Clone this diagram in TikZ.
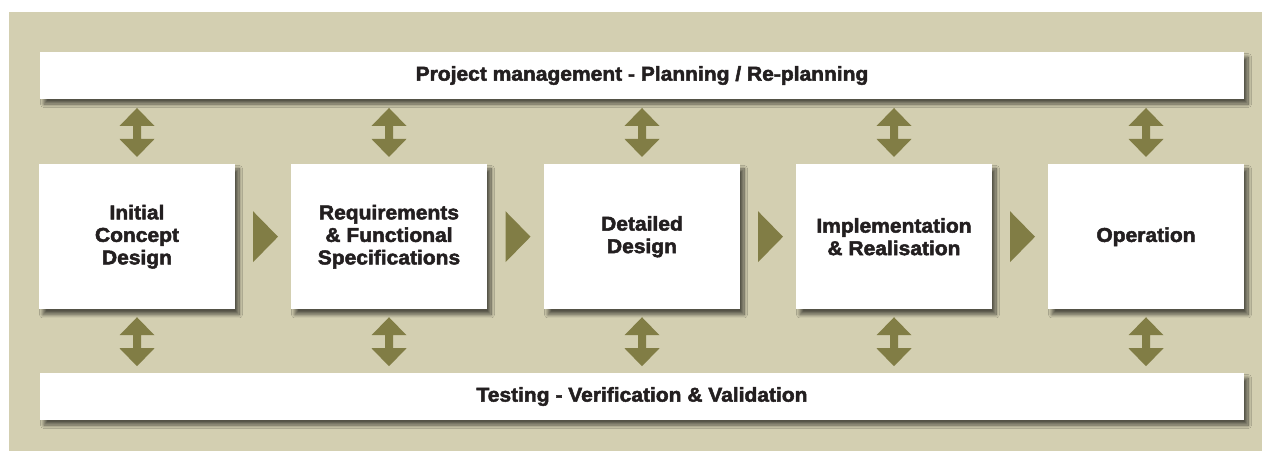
\documentclass[tikz,border=0pt]{standalone}
\usepackage{fontspec}
\newfontfamily\lblfont{Liberation Sans}[BoldFeatures={FakeStretch=1.05,FakeBold=2.4}]
\usetikzlibrary{calc,shadows.blur}
\definecolor{panel}{HTML}{D3CFB1}
\definecolor{olivetip}{HTML}{817D45}
\definecolor{ink}{HTML}{231F20}
\tikzset{
  card/.style={rectangle, fill=white, inner sep=0pt, align=center,
    text=ink, font=\lblfont\bfseries\fontsize{20}{22.5}\selectfont,
    blur shadow={shadow xshift=4pt, shadow yshift=-5pt,
      shadow blur radius=3.5pt, shadow blur steps=12, shadow opacity=60}},
  stage/.style={card, minimum width=196pt, minimum height=145.5pt},
  band/.style={card, minimum width=1204pt, minimum height=47pt},
}
% vertical double-headed arrow centred on a coordinate
\newcommand\linkarrow[1]{%
  \fill[olivetip] (#1) ++(0,-24.5) -- ++(17.5,18) -- ++(-13.5,0) -- ++(0,13)
    -- ++(13.5,0) -- ++(-17.5,18) -- ++(-17.5,-18) -- ++(13.5,0)
    -- ++(0,-13) -- ++(-13.5,0) -- cycle;}
% forward triangle between two stages
\newcommand\stepmark[1]{%
  \fill[olivetip] (#1) ++(-10,-25.5) -- ++(25,25.5) -- ++(-25,25.5) -- cycle;}
\begin{document}
\begin{tikzpicture}[x=1pt,y=-1pt]
  \useasboundingbox (0,0) rectangle (1262,451);
  \fill[panel] (9,12) rectangle (1262,451);

  \node[band] (pm) at (642,75.5) {Project management - Planning / Re-planning};
  \node[band] (tv) at (642,396.5) {Testing - Verification \& Validation};

  \node[stage] (s1) at (137,236.7) {Initial\\Concept\\Design};
  \node[stage] (s2) at (389,236.7) {Requirements\\\& Functional\\Specifications};
  \node[stage] (s3) at (642,236.7) {Detailed\\Design};
  \node[stage] (s4) at (894,236.7) {Implementation\\\& Realisation};
  \node[stage] (s5) at (1146,236.7) {Operation};

  \foreach \i in {1,...,5} {
    \coordinate (up\i) at ($(pm.south -| s\i.north)!0.5!(s\i.north) + (0,1)$);
    \coordinate (dn\i) at ($(s\i.south)!0.5!(tv.north -| s\i.south) + (0,0.5)$);
    \linkarrow{up\i}
    \linkarrow{dn\i}
  }
  \foreach \i [evaluate=\i as \j using int(\i+1)] in {1,...,4} {
    \coordinate (fw\i) at ($(s\i.east)!0.5!(s\j.west)$);
    \stepmark{fw\i}
  }
\end{tikzpicture}
\end{document}
